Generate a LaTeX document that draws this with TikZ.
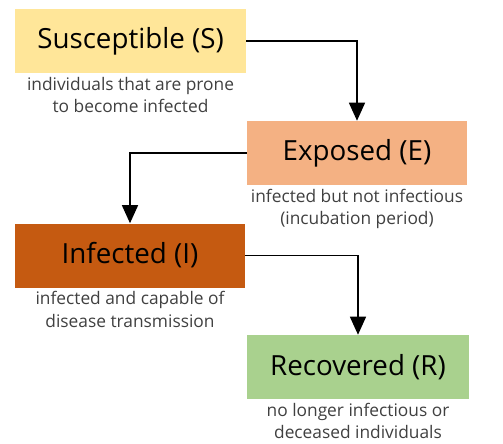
\documentclass[tikz,border=0pt]{standalone}
\usepackage{fontspec}
\setmainfont{Open Sans}
\usetikzlibrary{positioning, arrows.meta}
\definecolor{sYellow}{HTML}{FFE699}
\definecolor{eOrange}{HTML}{F4B183}
\definecolor{iRust}{HTML}{C55A11}
\definecolor{rGreen}{HTML}{A9D18E}
\definecolor{descGray}{HTML}{404040}
\tikzstyle{state} = [rectangle, minimum height=48pt, text centered, inner sep=0pt, font=\fontsize{20.8}{24}\selectfont]
\tikzstyle{desc} = [align=center, inner sep=0pt, text=descGray, font=\fontsize{13}{17}\selectfont]
\tikzstyle{arrow} = [line width=1pt, -{Triangle[width=12pt,length=13.5pt]}]

\begin{document}
\begin{tikzpicture}[x=0.75pt, y=-0.75pt]
\useasboundingbox (0,0) rectangle (503,443);
\node (S) [state, fill=sYellow, minimum width=173pt] at (130.5,41) {Susceptible (S)};
\node (Sdesc) [desc, below=2.5pt of S] {individuals that are prone\\to become infected};
\node (E) [state, fill=eOrange, minimum width=165pt] at (357,153) {Exposed (E)};
\node (Edesc) [desc, below=2.5pt of E] {infected but not infectious\\(incubation period)};
\node (I) [state, fill=iRust, minimum width=172.5pt] at (130,255.5) {Infected (I)};
\node (Idesc) [desc, below=2.5pt of I] {infected and capable of\\disease transmission};
\node (R) [state, fill=rGreen, minimum width=166.5pt] at (358,367) {Recovered (R)};
\node (Rdesc) [desc, below=2.5pt of R] {no longer infectious or\\deceased individuals};
\draw [arrow] (S.east) -| (E.north);
\draw [arrow] (E.west) -| (I.north);
\draw [arrow] (I.east) -| (R.north);
\end{tikzpicture}
\end{document}
